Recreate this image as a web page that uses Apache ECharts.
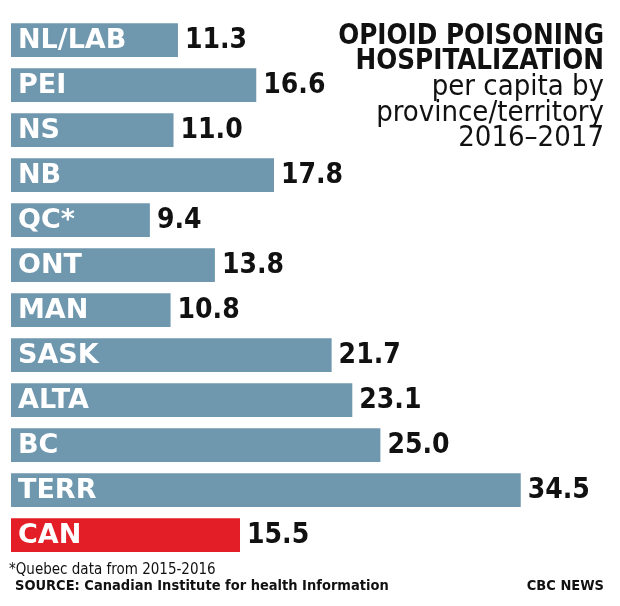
<!DOCTYPE html>
<html>
<head>
<meta charset="utf-8">
<script src="https://cdn.jsdelivr.net/npm/echarts@6/dist/echarts.min.js"></script>
<style>
  html, body { margin: 0; padding: 0; background: #fff; }
  #main { width: 620px; height: 606px; }
</style>
</head>
<body>
<div id="main"></div>
<script>
// data
var categories = ['NL/LAB', 'PEI', 'NS', 'NB', 'QC*', 'ONT', 'MAN', 'SASK', 'ALTA', 'BC', 'TERR', 'CAN'];
var values = [11.3, 16.6, 11.0, 17.8, 9.4, 13.8, 10.8, 21.7, 23.1, 25.0, 34.5, 15.5];
var titleLines = ['OPIOID POISONING', 'HOSPITALIZATION'];
var subLines = ['per capita by', 'province/territory', '2016\u20132017'];

var FONT = '"DejaVu Sans Condensed", "DejaVu Sans", sans-serif';
var WIDE = '"DejaVu Sans", sans-serif';
var blue = '#6f97ae';
var red = '#e41e26';

var myChart = echarts.init(document.getElementById('main'));

var barData = values.map(function (v, i) {
    return {
        value: v,
        itemStyle: { color: categories[i] == 'CAN' ? red : blue }
    };
});

var graphics = [];
titleLines.forEach(function (t, i) {
    graphics.push({
        type: 'text', right: 16, top: 23 + i * 25,
        style: { text: t, font: 'bold 27.5px ' + FONT, fill: '#111', textAlign: 'right' }
    });
});
subLines.forEach(function (t, i) {
    graphics.push({
        type: 'text', right: 16, top: 73 + i * 25.5,
        style: { text: t, font: '29px ' + FONT, fill: '#111', textAlign: 'right' }
    });
});
graphics.push({
    type: 'text', left: 9, top: 563,
    style: { text: '*Quebec data from 2015-2016', font: '15px ' + FONT, fill: '#111' }
});
graphics.push({
    type: 'text', left: 15, top: 579,
    style: { text: 'SOURCE: Canadian Institute for health Information', font: 'bold 14.5px ' + FONT, fill: '#111' }
});
graphics.push({
    type: 'text', right: 16, top: 579,
    style: { text: 'CBC NEWS', font: 'bold 14.5px ' + FONT, fill: '#111', textAlign: 'right' }
});

var option = {
    animation: false,
    backgroundColor: '#fff',
    grid: { left: 11, right: 18, top: 17.5, bottom: 48.5 },
    xAxis: { type: 'value', min: 0, max: 40, show: false },
    yAxis: {
        type: 'category', data: categories, inverse: true, show: false
    },
    graphic: graphics,
    series: [
        {
            // bars with province name inside
            type: 'bar',
            data: barData,
            barCategoryGap: '25%',
            label: {
                show: true, position: 'insideLeft', offset: [2, 1],
                formatter: '{b}', color: '#fff',
                fontFamily: WIDE, fontWeight: 'bold', fontSize: 27
            }
        },
        {
            // invisible copy that carries the value label
            type: 'bar',
            data: values,
            barGap: '-100%',
            barCategoryGap: '25%',
            itemStyle: { color: 'transparent' },
            label: {
                show: true, position: 'right', distance: 7, offset: [0, 1],
                formatter: function (p) { return p.value.toFixed(1); },
                color: '#111', fontFamily: FONT, fontWeight: 'bold', fontSize: 28
            }
        }
    ]
};

myChart.setOption(option);
</script>
</body>
</html>
